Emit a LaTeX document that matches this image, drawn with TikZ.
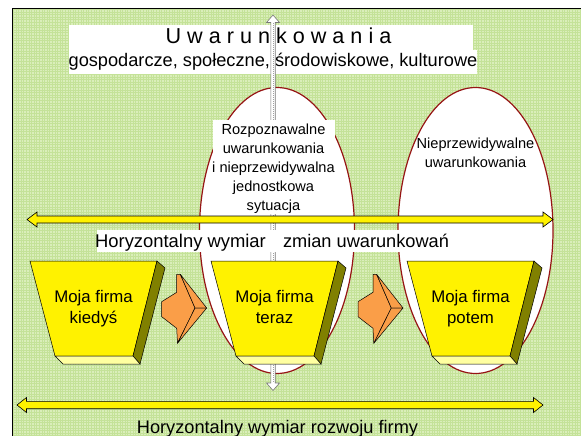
\documentclass[tikz,border=0pt]{standalone}
\usepackage{fontspec}
\setmainfont{Liberation Sans}
\usetikzlibrary{shapes.geometric}
\definecolor{bggreen}{RGB}{218,238,186}
\definecolor{gridgreen}{RGB}{196,226,152}
\definecolor{ellred}{RGB}{150,20,20}
\definecolor{olivethree}{RGB}{128,128,0}
\definecolor{lightyel}{RGB}{255,255,160}
\definecolor{orangeA}{RGB}{250,158,72}
\definecolor{arrgray}{RGB}{120,120,120}
\newcommand\fsz[2]{\fontsize{#1}{#2}\selectfont}
\begin{document}
\begin{tikzpicture}[x=1pt,y=-1pt,
  txt/.style={inner sep=0pt, anchor=base, text=black},
  ellshape/.style={draw=ellred, fill=white, line width=1.2pt, ellipse, inner sep=0pt,
     minimum width=155pt, minimum height=286pt},
  yelarrow/.style={fill=yellow, draw=black, line width=0.6pt, line join=miter},
  orangeface/.style={fill=orangeA, draw=black, line width=0.5pt, line join=round},
  frontface/.style={fill=yellow, draw=black, line width=0.5pt},
  sideface/.style={fill=olivethree, draw=black, line width=0.5pt},
  bottomface/.style={fill=lightyel, draw=black, line width=0.5pt}]
\useasboundingbox (0,0) rectangle (581,436);
\clip (0,0) rectangle (581,436);
\fill[white] (0,0) rectangle (581,436);
% background pattern
\fill[bggreen] (12,8) rectangle (590,445);
\foreach \gx in {13.3,15.9,...,581} \draw[gridgreen, line width=0.45pt] (\gx,8) -- (\gx,436);
\foreach \gy in {9.3,11.9,...,436} \draw[gridgreen, line width=0.45pt] (12,\gy) -- (581,\gy);
\draw[black, line width=0.8pt] (12,445) -- (12,8) -- (590,8);
% title
\fill[white] (69,25) rectangle (473,50);
\fill[white] (69,50) rectangle (477,74);
\node[txt] (title) at (278.5,43.3) {\fsz{21.6}{25}U w a r u n k o w a n i a};
\node[txt] (subtitle) at (273,66.5) {\fsz{18.2}{21}gospodarcze, społeczne, środowiskowe, kulturowe};
% ellipses
\node[ellshape] (e1) at (277,230.5) {};
\node[ellshape] (e2) at (475.5,230.5) {};
% vertical arrow
\draw[fill=white, draw=arrgray, line width=0.6pt] (273,15) -- (279.5,22.5) -- (275.2,22.5) -- (275.2,383) -- (279.5,383)
  -- (273,390.5) -- (266.5,383) -- (270.8,383) -- (270.8,22.5) -- (266.5,22.5) -- cycle;
\draw[arrgray!70, line width=1pt, densely dotted] (273,23) -- (273,382);
% text box in ellipse 1
\fill[white] (213,120) rectangle (335,214);
\foreach \ln/\yy [count=\i] in {Rozpoznawalne/134, uwarunkowania/153.2, i nieprzewidywalna/172.4, jednostkowa/191.6, sytuacja/210.8}
  \node[txt, name=eonel\i] at (273.5,\yy) {\fsz{14.6}{17}\ln};
\node[txt] (etwoa) at (475.5,148.5) {\fsz{14.6}{17}Nieprzewidywalne};
\node[txt] (etwob) at (475.5,167.3) {\fsz{14.6}{17}uwarunkowania};
% top horizontal double arrow
\draw[yelarrow] (27,219.5) -- (37,212) -- (37,216) -- (543,216) -- (543,212) -- (553,219.5)
  -- (543,227) -- (543,223) -- (37,223) -- (37,227) -- cycle;
% middle label
\fill[white] (97,230) rectangle (452,252);
\node[txt] (hlabA) at (180.5,247) {\fsz{18.4}{21}Horyzontalny wymiar};
\node[txt] (hlabB) at (366,247) {\fsz{18.2}{21}zmian uwarunkowań};
% firm boxes
\foreach \bx/\la/\lb [count=\i] in {30/Moja firma/kiedyś, 211/Moja firma/teraz, 407/Moja firma/potem}{
  \begin{scope}[shift={(\bx,0)}]
    \draw[frontface] (0,261) -- (127,261) -- (103,356) -- (25,356) -- cycle;
    \draw[sideface] (127,261) -- (135,268) -- (110,364) -- (103,356) -- cycle;
    \draw[bottomface] (25,356) -- (103,356) -- (110,364) -- (33,364) -- cycle;
    \node[txt, name=boxa\i] at (63.5,302.5) {\fsz{16.8}{19}\la};
    \node[txt, name=boxb\i] at (63.5,323.5) {\fsz{16.8}{19}\lb};
  \end{scope}}
% orange 3D arrows
\foreach \ox in {0,196.3}{
  \begin{scope}[shift={(\ox,0)}]
    \draw[orangeface] (176.7,274.3) -- (180.3,274.3) -- (195,308) -- (177.5,343.3) -- (176.7,328.3)
      -- (161.7,316.7) -- (161.7,301.7) -- (176.7,292.3) -- cycle;
    \draw[orangeface] (180.3,274.3) -- (206.7,308) -- (195,308) -- cycle;
    \draw[orangeface] (195,308) -- (206.7,308) -- (177.5,343.3) -- cycle;
  \end{scope}}
% bottom horizontal double arrow
\draw[yelarrow] (17,405) -- (26.5,397.5) -- (26.5,401.3) -- (533.5,401.3) -- (533.5,397.5) -- (543,405)
  -- (533.5,412.5) -- (533.5,408.7) -- (26.5,408.7) -- (26.5,412.5) -- cycle;
\node[txt] (bottomlab) at (277.5,433) {\fsz{18.2}{21}Horyzontalny wymiar rozwoju firmy};
\end{tikzpicture}
\end{document}
